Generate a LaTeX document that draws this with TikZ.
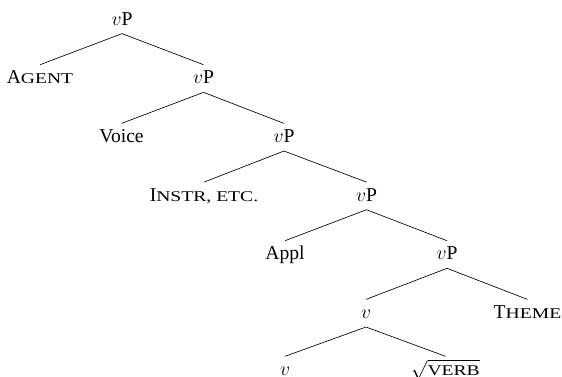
\documentclass[tikz,border=0pt]{standalone}
\usepackage{fontspec}
\setmainfont{Liberation Serif}
\usepackage{graphicx}
\newcommand{\lowcaps}[1]{\scalebox{1.0}[0.76]{\MakeUppercase{#1}}}
\begin{document}
\begin{tikzpicture}[x=0.612pt,y=-0.612pt,font=\fontsize{12}{14}\selectfont,
  lbl/.style={inner sep=0pt,text height=11.6pt,text depth=4.9pt,anchor=base}]
\useasboundingbox (0,0) rectangle (562,377);

\node[lbl] (vp1) at (122,25.3) {$v$P};
\node[lbl] (agent) at (40,84) {A\lowcaps{gent}};
\node[lbl] (vp2) at (203.5,84) {$v$P};
\node[lbl] (voice) at (121.5,142.7) {Voice};
\node[lbl] (vp3) at (284,142.7) {$v$P};
\node[lbl] (instr) at (204,201.4) {I\lowcaps{nstr, etc.}};
\node[lbl] (vp4) at (366.5,201.4) {$v$P};
\node[lbl] (appl) at (285,260) {Appl};
\node[lbl] (vp5) at (447,260) {$v$P};
\node[lbl] (v1) at (366,318.7) {$v$};
\node[lbl] (theme) at (527.5,318.7) {T\lowcaps{heme}};
\node[lbl] (v2) at (285,375.6) {$v$};
\node[lbl] (verb) at (445.5,375.6) {$\sqrt{\mbox{\lowcaps{verb}}}$};

\draw (vp1.south) -- (agent.north);
\draw (vp1.south) -- (vp2.north);
\draw (vp2.south) -- (voice.north);
\draw (vp2.south) -- (vp3.north);
\draw (vp3.south) -- (instr.north);
\draw (vp3.south) -- (vp4.north);
\draw (vp4.south) -- (appl.north);
\draw (vp4.south) -- (vp5.north);
\draw (vp5.south) -- (v1.north);
\draw (vp5.south) -- (theme.north);
\draw (v1.south) -- (v2.north);
\draw (v1.south) -- (verb.north);
\end{tikzpicture}
\end{document}
